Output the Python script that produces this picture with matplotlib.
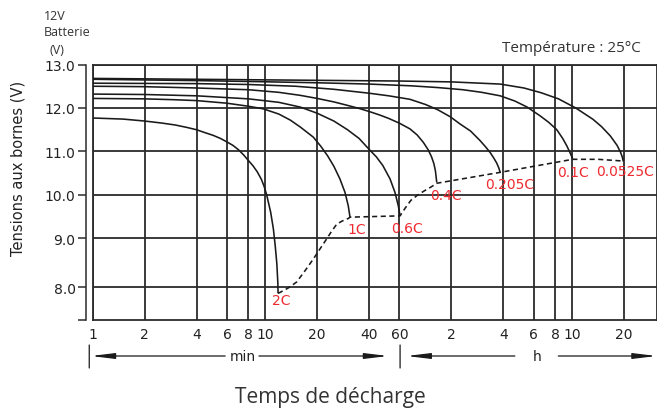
import numpy as np
import matplotlib
matplotlib.use("Agg")
import matplotlib.pyplot as plt

# ---------------- data (t in minutes, V in volts) ----------------
rates = ["2C", "1C", "0.6C", "0.4C", "0.205C", "0.1C", "0.0525C"]

t_2c = [1, 1.5, 2, 2.5, 3, 3.5, 4, 4.5, 5, 5.5, 6, 6.5, 7, 7.5, 8, 8.5, 9, 9.5, 9.85,
        10.2, 10.76, 11.15, 11.43, 11.68, 11.84, 11.87]
v_2c = [11.77, 11.745, 11.70, 11.655, 11.61, 11.555, 11.50, 11.43, 11.37, 11.30, 11.22,
        11.14, 11.04, 10.92, 10.79, 10.67, 10.53, 10.36, 10.20, 10.0, 9.60, 9.22, 8.85,
        8.48, 8.08, 7.88]

t_1c = [1, 2, 3, 4, 6, 8, 9.75, 12, 14, 16, 19, 21, 23, 25, 27.1, 29, 30.3, 31]
v_1c = [12.22, 12.21, 12.19, 12.17, 12.11, 12.04, 11.98, 11.86, 11.72, 11.56, 11.33,
        11.12, 10.90, 10.66, 10.37, 10.06, 9.75, 9.49]

t_06c = [1, 2, 4, 8, 12, 16, 20, 25, 30, 35, 40, 44, 48, 52.9, 56.5, 59.1, 60.5]
v_06c = [12.32, 12.31, 12.28, 12.21, 12.13, 12.02, 11.88, 11.70, 11.50, 11.30, 11.05,
         10.88, 10.68, 10.37, 10.06, 9.75, 9.52]

t_04c = [1, 2, 4, 8, 12, 16, 20, 25, 30, 35, 40, 46, 52, 60, 69, 76, 82.5, 88, 92, 95,
         97, 98.7]
v_04c = [12.50, 12.49, 12.46, 12.42, 12.36, 12.29, 12.22, 12.14, 12.06, 11.99, 11.92,
         11.84, 11.76, 11.65, 11.52, 11.38, 11.21, 11.04, 10.88, 10.72, 10.55, 10.29]

t_0205c = [1, 4, 8, 15, 25, 40, 52, 69, 85, 100, 118, 135, 155, 176, 190, 201, 212, 220,
           226, 230]
v_0205c = [12.57, 12.56, 12.54, 12.50, 12.43, 12.34, 12.28, 12.20, 12.08, 11.96, 11.80,
           11.63, 11.47, 11.25, 11.10, 10.98, 10.84, 10.73, 10.62, 10.52]

t_01c = [1, 4, 8, 20, 40, 70, 100, 140, 180, 230, 280, 330, 392, 440, 490, 530, 560, 585,
         606]
v_01c = [12.66, 12.63, 12.61, 12.58, 12.55, 12.51, 12.47, 12.42, 12.36, 12.28, 12.16,
         12.02, 11.82, 11.67, 11.50, 11.30, 11.13, 10.97, 10.83]

t_00525c = [1, 8, 60, 120, 230, 316, 398, 501, 631, 794, 891, 1000, 1096, 1148, 1175, 1191]
v_00525c = [12.68, 12.65, 12.62, 12.60, 12.55, 12.46, 12.35, 12.21, 12.00, 11.74, 11.57,
            11.36, 11.14, 10.98, 10.87, 10.77]

# dashed end-voltage line
t_end = [11.87, 12.2, 13.6, 15.2, 17.0, 19.0, 20.8, 22.7, 24.3, 26.0, 27.9, 30.3, 31,
         60.5, 64.8, 70, 76, 84, 92, 98.7, 230, 606, 850, 1191]
v_end = [7.88, 7.90, 7.99, 8.11, 8.34, 8.58, 8.79, 8.99, 9.17, 9.33, 9.40, 9.46, 9.49,
         9.52, 9.70, 9.88, 9.99, 10.10, 10.19, 10.27, 10.52, 10.82, 10.82, 10.78]

x_ticks = [1, 2, 4, 6, 8, 10, 20, 40, 60, 120, 240, 360, 480, 600, 1200]
x_labels = ["1", "2", "4", "6", "8", "10", "20", "40", "60", "2", "4", "6", "8", "10", "20"]
y_ticks = [8, 9, 10, 11, 12, 13]
y_labels = ["8.0", "9.0", "10.0", "11.0", "12.0", "13.0"]

curves_t = [t_2c, t_1c, t_06c, t_04c, t_0205c, t_01c, t_00525c]
curves_v = [v_2c, v_1c, v_06c, v_04c, v_0205c, v_01c, v_00525c]
label_offsets = [(3, -7), (7, -12), (7, -12), (9, -13), (10, -12), (0, -13), (2, -10)]

# ---------------- figure ----------------
W, H = 657, 410
fig = plt.figure(figsize=(W / 100, H / 100), dpi=100)
L, R, T, B = 92.7, 656.5, 65.5, 321
ax = fig.add_axes([L / W, 1 - B / H, (R - L) / W, (B - T) / H])

K = 49.0 / 43.5
def fwd(v):
    v = np.asarray(v, dtype=float)
    return np.where(v >= 9, v, 9 - (9 - v) * K)
def inv(u):
    u = np.asarray(u, dtype=float)
    return np.where(u >= 9, u, 9 - (9 - u) / K)

ax.set_xscale("log")
ax.set_yscale("function", functions=(fwd, inv))
ax.set_xlim(1, 1854)
ax.set_ylim(7.336, 13.0)

grid_c = "#2b2b2b"
ink = "#1a1a1a"
red = "#ee2a2f"

ax.set_xticks(x_ticks)
ax.set_xticklabels(x_labels)
ax.xaxis.set_minor_locator(matplotlib.ticker.NullLocator())
ax.set_yticks(y_ticks)
ax.set_yticklabels(y_labels)
ax.set_yticks([7.336], minor=True)
ax.grid(True, which="major", color=grid_c, lw=1.3)
ax.tick_params(axis="x", which="both", length=0, pad=5, labelsize=10, labelcolor="#222222")
ax.tick_params(axis="y", which="both", length=6, width=1.1, pad=1.5, labelsize=10,
               labelcolor="#222222", color=grid_c)

for s in ["top", "right", "bottom"]:
    ax.spines[s].set_color(grid_c)
    ax.spines[s].set_linewidth(1.3)
ax.spines["left"].set_position(("outward", 4.8))
ax.spines["left"].set_color(grid_c)
ax.spines["left"].set_linewidth(1.1)
ax.axvline(1, color=grid_c, lw=1.3, clip_on=False)

for tt, vv, name, off in zip(curves_t, curves_v, rates, label_offsets):
    ax.plot(tt, vv, color=ink, lw=1.15, solid_capstyle="butt", solid_joinstyle="round",
            zorder=3)
    ax.annotate(name, xy=(tt[-1], vv[-1]), xytext=off, textcoords="offset pixels",
                ha="center", va="center", color=red, fontsize=10, zorder=4)

ax.plot(t_end, v_end, color=ink, lw=1.15, dashes=(3.2, 2.2), zorder=3)

# ---------------- bottom min / h arrows ----------------
yc = ("data", "axes fraction")
ya = (B - 357) / (B - T)
yb0, yb1 = (B - 346) / (B - T), (B - 369) / (B - T)
ap = dict(arrowstyle="-|>,head_length=1.4,head_width=0.17", color=ink, lw=0.9,
          shrinkA=0, shrinkB=0, mutation_scale=10)
for xb in (0.955, 60.5):
    ax.annotate("", xy=(xb, yb1), xytext=(xb, yb0), xycoords=yc, textcoords=yc,
                arrowprops=dict(arrowstyle="-", color=ink, lw=0.9, shrinkA=0, shrinkB=0))
ax.annotate("", xy=(0.977, ya), xytext=(5.86, ya), xycoords=yc, textcoords=yc, arrowprops=ap)
ax.annotate("", xy=(51.5, ya), xytext=(9.2, ya), xycoords=yc, textcoords=yc, arrowprops=ap)
ax.annotate("", xy=(66.1, ya), xytext=(280, ya), xycoords=yc, textcoords=yc, arrowprops=ap)
ax.annotate("", xy=(1854, ya), xytext=(500, ya), xycoords=yc, textcoords=yc, arrowprops=ap,
            annotation_clip=False)
ax.annotate("min", xy=(7.4, ya), xycoords=yc, ha="center", va="center", fontsize=10,
            color="#222222")
ax.annotate("h", xy=(375, ya), xycoords=yc, ha="center", va="center", fontsize=10,
            color="#222222")

# ---------------- texts ----------------
of = ["Open Sans", "DejaVu Sans"]
fig.text(18 / W, 1 - 168 / H, "Tensions aux bornes (V)", rotation=90, ha="center",
         va="center", fontsize=10.5, color="#222222")
fig.text(330 / W, 1 - 398 / H, "Temps de décharge", ha="center", va="center",
         fontsize=15, family=of, color="#333333")
fig.text(571.7 / W, 1 - 48 / H, "Température : 25°C", ha="center", va="center",
         fontsize=11, family=of, color="#333333")
fig.text(43.5 / W, 1 - 16 / H, "12V", ha="left", va="center", fontsize=9, family=of,
         color="#333333")
fig.text(43.5 / W, 1 - 33 / H, "Batterie", ha="left", va="center", fontsize=9, family=of,
         color="#333333")
fig.text(49 / W, 1 - 50 / H, "(V)", ha="left", va="center", fontsize=9, family=of,
         color="#333333")

fig.savefig("out.png", dpi=100, facecolor="white")
